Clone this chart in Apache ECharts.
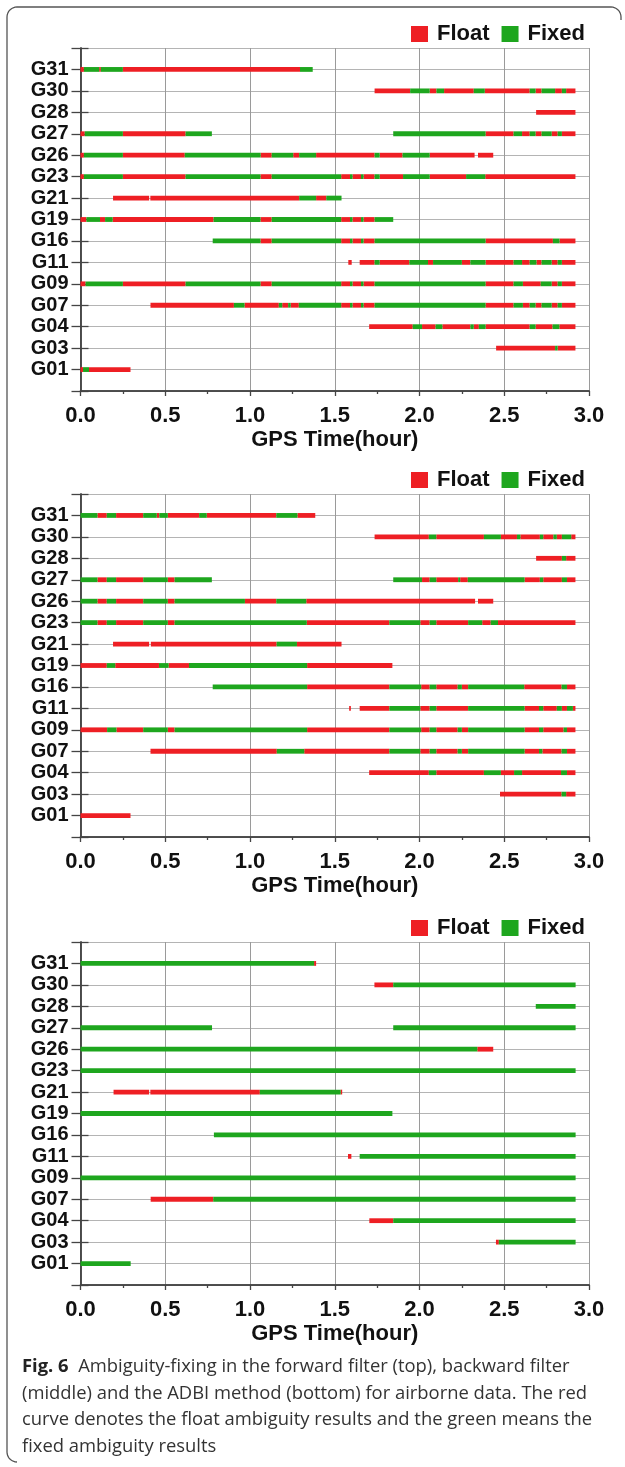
<!DOCTYPE html>
<html>
<head>
<meta charset="utf-8">
<title>Fig. 6 ambiguity fixing</title>
<script src="https://cdn.jsdelivr.net/npm/echarts@6/dist/echarts.min.js"></script>
<style>
  html, body { margin: 0; padding: 0; background: #fff; }
  #chart { width: 625px; height: 1467px; }
</style>
</head>
<body>
<div id="chart"></div>
<script>
// satellites from bottom (row 1) to top (row 15)
var satellites = ['G01', 'G03', 'G04', 'G07', 'G09', 'G11', 'G16', 'G19', 'G21', 'G23', 'G26', 'G27', 'G28', 'G30', 'G31'];
var statusNames = ['Float', 'Fixed'];

// runs: [t0, state, t1, state, t2, ...]  R = float, G = fixed, '-' = no data
var forwardRuns = [
    ['G31', [0, 'R', 0.02, 'G', 0.11, 'R', 0.12, 'G', 0.25, 'R', 1.295, 'G', 1.37]],
    ['G30', [1.735, 'R', 1.945, 'G', 2.06, 'R', 2.10, 'G', 2.145, 'R', 2.32, 'G', 2.385, 'R', 2.65, 'G', 2.685, 'R', 2.72, 'G', 2.80, 'R', 2.84, 'G', 2.865, 'R', 2.92]],
    ['G28', [2.688, 'R', 2.92]],
    ['G27', [0, 'R', 0.025, 'G', 0.25, 'R', 0.62, 'G', 0.775, '-', 1.845, 'G', 2.39, 'R', 2.555, 'G', 2.605, 'R', 2.65, 'G', 2.685, 'R', 2.72, 'G', 2.78, 'R', 2.815, 'G', 2.84, 'R', 2.92]],
    ['G26', [0, 'R', 0.02, 'G', 0.25, 'R', 0.615, 'G', 1.063, 'R', 1.128, 'G', 1.255, 'R', 1.29, 'G', 1.39, 'R', 1.735, 'G', 1.765, 'R', 1.90, 'G', 2.06, 'R', 2.325, '-', 2.345, 'R', 2.435]],
    ['G23', [0, 'R', 0.02, 'G', 0.25, 'R', 0.62, 'G', 1.062, 'R', 1.128, 'G', 1.538, 'R', 1.59, 'G', 1.605, 'R', 1.655, 'G', 1.67, 'R', 1.735, 'G', 1.765, 'R', 1.903, 'G', 2.06, 'R', 2.275, 'G', 2.388, 'R', 2.92]],
    ['G21', [0.192, 'R', 0.405, '-', 0.412, 'R', 1.29, 'G', 1.39, 'R', 1.45, 'G', 1.54]],
    ['G19', [0, 'R', 0.035, 'G', 0.115, 'R', 0.145, 'G', 0.19, 'R', 0.785, 'G', 1.062, 'R', 1.128, 'G', 1.538, 'R', 1.59, 'G', 1.605, 'R', 1.655, 'G', 1.67, 'R', 1.735, 'G', 1.845]],
    ['G16', [0.78, 'G', 1.062, 'R', 1.128, 'G', 1.538, 'R', 1.59, 'G', 1.605, 'R', 1.655, 'G', 1.67, 'R', 1.735, 'G', 2.39, 'R', 2.787, 'G', 2.826, 'R', 2.92]],
    ['G11', [1.58, 'R', 1.60, '-', 1.647, 'R', 1.735, 'G', 1.765, 'R', 1.94, 'G', 2.05, 'R', 2.08, 'G', 2.25, 'R', 2.30, 'G', 2.39, 'R', 2.555, 'G', 2.605, 'R', 2.65, 'G', 2.69, 'R', 2.72, 'G', 2.78, 'R', 2.815, 'G', 2.84, 'R', 2.92]],
    ['G09', [0, 'R', 0.03, 'G', 0.25, 'R', 0.62, 'G', 1.062, 'R', 1.128, 'G', 1.538, 'R', 1.59, 'G', 1.605, 'R', 1.655, 'G', 1.67, 'R', 1.735, 'G', 2.39, 'R', 2.555, 'G', 2.61, 'R', 2.715, 'G', 2.78, 'R', 2.815, 'G', 2.84, 'R', 2.92]],
    ['G07', [0.413, 'R', 0.905, 'G', 0.968, 'R', 1.17, 'G', 1.19, 'R', 1.225, 'G', 1.24, 'R', 1.288, 'G', 1.538, 'R', 1.59, 'G', 1.605, 'R', 1.655, 'G', 1.67, 'R', 1.735, 'G', 2.39, 'R', 2.555, 'G', 2.61, 'R', 2.65, 'G', 2.685, 'R', 2.72, 'G', 2.78, 'R', 2.815, 'G', 2.84, 'R', 2.92]],
    ['G04', [1.703, 'R', 1.96, 'G', 2.015, 'R', 2.095, 'G', 2.135, 'R', 2.30, 'G', 2.32, 'R', 2.35, 'G', 2.39, 'R', 2.65, 'G', 2.685, 'R', 2.785, 'G', 2.825, 'R', 2.92]],
    ['G03', [2.452, 'R', 2.80, 'G', 2.815, 'R', 2.92]],
    ['G01', [0, 'R', 0.015, 'G', 0.05, 'R', 0.295]]
];

var backwardRuns = [
    ['G31', [0, 'G', 0.10, 'R', 0.155, 'G', 0.21, 'R', 0.37, 'G', 0.45, 'R', 0.465, 'G', 0.515, 'R', 0.70, 'G', 0.745, 'R', 1.155, 'G', 1.28, 'R', 1.385]],
    ['G30', [1.735, 'R', 2.055, 'G', 2.099, 'R', 2.38, 'G', 2.48, 'R', 2.575, 'G', 2.595, 'R', 2.71, 'G', 2.73, 'R', 2.79, 'G', 2.81, 'R', 2.84, 'G', 2.895, 'R', 2.92]],
    ['G28', [2.688, 'R', 2.84, 'G', 2.865, 'R', 2.92]],
    ['G27', [0, 'G', 0.10, 'R', 0.155, 'G', 0.21, 'R', 0.37, 'G', 0.515, 'R', 0.555, 'G', 0.775, '-', 1.845, 'G', 2.015, 'R', 2.06, 'G', 2.099, 'R', 2.228, 'G', 2.24, 'R', 2.285, 'G', 2.62, 'R', 2.71, 'G', 2.73, 'R', 2.84, 'G', 2.87, 'R', 2.92]],
    ['G26', [0, 'G', 0.10, 'R', 0.155, 'G', 0.21, 'R', 0.37, 'G', 0.515, 'R', 0.555, 'G', 0.97, 'R', 1.155, 'G', 1.332, 'R', 2.328, '-', 2.345, 'R', 2.435]],
    ['G23', [0, 'G', 0.10, 'R', 0.155, 'G', 0.21, 'R', 0.37, 'G', 0.515, 'R', 0.555, 'G', 1.335, 'R', 1.822, 'G', 2.005, 'R', 2.06, 'G', 2.099, 'R', 2.287, 'G', 2.37, 'R', 2.42, 'G', 2.463, 'R', 2.92]],
    ['G21', [0.192, 'R', 0.405, '-', 0.415, 'R', 1.157, 'G', 1.277, 'R', 1.54]],
    ['G19', [0, 'R', 0.155, 'G', 0.205, 'R', 0.463, 'G', 0.52, 'R', 0.64, 'G', 1.337, 'R', 1.84]],
    ['G16', [0.78, 'G', 1.337, 'R', 1.822, 'G', 2.01, 'R', 2.06, 'G', 2.099, 'R', 2.225, 'G', 2.25, 'R', 2.287, 'G', 2.618, 'R', 2.838, 'G', 2.87, 'R', 2.92]],
    ['G11', [1.585, 'R', 1.595, '-', 1.647, 'R', 1.822, 'G', 2.005, 'R', 2.06, 'G', 2.099, 'R', 2.287, 'G', 2.62, 'R', 2.705, 'G', 2.73, 'R', 2.81, 'G', 2.84, 'R', 2.87, 'G', 2.905, 'R', 2.92]],
    ['G09', [0, 'R', 0.157, 'G', 0.212, 'R', 0.37, 'G', 0.515, 'R', 0.555, 'G', 1.337, 'R', 1.822, 'G', 2.01, 'R', 2.06, 'G', 2.099, 'R', 2.225, 'G', 2.25, 'R', 2.287, 'G', 2.62, 'R', 2.705, 'G', 2.73, 'R', 2.85, 'G', 2.87, 'R', 2.92]],
    ['G07', [0.413, 'R', 1.158, 'G', 1.32, 'R', 1.822, 'G', 2.005, 'R', 2.06, 'G', 2.099, 'R', 2.225, 'G', 2.25, 'R', 2.287, 'G', 2.62, 'R', 2.705, 'G', 2.725, 'R', 2.838, 'G', 2.87, 'R', 2.92]],
    ['G04', [1.703, 'R', 2.055, 'G', 2.099, 'R', 2.38, 'G', 2.48, 'R', 2.558, 'G', 2.605, 'R', 2.835, 'G', 2.87, 'R', 2.92]],
    ['G03', [2.475, 'R', 2.838, 'G', 2.865, 'R', 2.92]],
    ['G01', [0, 'R', 0.295]]
];

var adbiRuns = [
    ['G31', [0, 'G', 1.378, 'R', 1.39]],
    ['G30', [1.734, 'R', 1.845, 'G', 2.921]],
    ['G28', [2.686, 'G', 2.921]],
    ['G27', [0, 'G', 0.776, '-', 1.845, 'G', 2.921]],
    ['G26', [0, 'G', 2.341, 'R', 2.435]],
    ['G23', [0, 'G', 2.921]],
    ['G21', [0.195, 'R', 0.405, '-', 0.412, 'R', 1.058, 'G', 1.535, 'R', 1.542]],
    ['G19', [0, 'G', 1.84]],
    ['G16', [0.787, 'G', 2.921]],
    ['G11', [1.578, 'R', 1.598, '-', 1.647, 'G', 2.921]],
    ['G09', [0, 'G', 2.921]],
    ['G07', [0.414, 'R', 0.783, 'G', 2.921]],
    ['G04', [1.704, 'R', 1.845, 'G', 2.921]],
    ['G03', [2.451, 'R', 2.468, 'G', 2.921]],
    ['G01', [0, 'G', 0.296]]
];

var captionLines = [
    '{b|Fig. 6}  Ambiguity-fixing in the forward filter (top), backward filter',
    '(middle) and the ADBI method (bottom) for airborne data. The red',
    'curve denotes the float ambiguity results and the green means the',
    'fixed ambiguity results'
];

var RED = '#ee1f24';
var GREEN = '#1ea61e';
var FRAME = '#444';
var FONT = '"Liberation Sans", Arial, sans-serif';
var CAPFONT = '"Open Sans", "Noto Sans", sans-serif';

// turn run lists into [start, end, row] items for one state
function segments(runs, state) {
    var out = [];
    runs.forEach(function(r) {
        var row = satellites.indexOf(r[0]) + 1;
        var seq = r[1];
        for (var i = 1; i < seq.length; i += 2) {
            if (seq[i] === state) out.push([seq[i - 1], seq[i + 1], row]);
        }
    });
    return out;
}

function renderRun(params, api) {
    var a = api.coord([api.value(0), api.value(2)]);
    var b = api.coord([api.value(1), api.value(2)]);
    var h = 4.8;
    return {
        type: 'rect',
        shape: { x: a[0], y: a[1] - h / 2, width: Math.max(b[0] - a[0], 1.5), height: h },
        style: { fill: api.visual('color') }
    };
}

// quarter circle points for the frame corners
function corner(cx, cy, r, a0, a1) {
    var pts = [];
    for (var k = 0; k <= 8; k++) {
        var a = (a0 + (a1 - a0) * k / 8) * Math.PI / 180;
        pts.push([cx + r * Math.cos(a), cy + r * Math.sin(a)]);
    }
    return pts;
}

var panels = [forwardRuns, backwardRuns, adbiRuns];
var gridTops = [48, 494, 942];
var legendTops = [18, 464, 912];

var option = {
    backgroundColor: '#fff',
    animation: false,
    grid: [],
    xAxis: [],
    yAxis: [],
    legend: [],
    series: [],
    graphic: []
};

panels.forEach(function(runs, p) {
    option.grid.push({ left: 80.5, right: 36, top: gridTops[p], height: 343 });

    option.xAxis.push({
        type: 'value', gridIndex: p, position: 'bottom',
        min: 0, max: 3, interval: 0.5,
        name: 'GPS Time(hour)', nameLocation: 'middle', nameGap: 38,
        nameTextStyle: { fontFamily: FONT, fontWeight: 'bold', fontSize: 22, color: '#111' },
        axisLine: { show: true, lineStyle: { color: FRAME, width: 1.5 } },
        axisTick: { show: true, length: 5, lineStyle: { color: FRAME, width: 1.3 } },
        minorTick: { show: true, splitNumber: 2, length: 3, lineStyle: { color: FRAME, width: 1.3 } },
        axisLabel: {
            margin: 14, fontFamily: FONT, fontWeight: 'bold', fontSize: 22, color: '#111',
            formatter: function(v) { return v.toFixed(1); }
        },
        splitLine: { show: true, lineStyle: { color: '#9a9a9a', width: 1 } }
    });
    option.xAxis.push({
        type: 'value', gridIndex: p, position: 'top', min: 0, max: 3, interval: 0.5,
        axisLine: { show: true, lineStyle: { color: FRAME, width: 1.5 } },
        axisTick: { show: false }, axisLabel: { show: false }, splitLine: { show: false }
    });

    option.yAxis.push({
        type: 'value', gridIndex: p, position: 'left', min: 0, max: 16, interval: 1,
        axisLine: { show: true, lineStyle: { color: FRAME, width: 1.5 } },
        axisTick: { show: true, length: 9, lineStyle: { color: FRAME, width: 1.3 } },
        axisLabel: {
            margin: 12, fontFamily: FONT, fontWeight: 'bold', fontSize: 20, color: '#111',
            formatter: function(v) { return satellites[v - 1] || ''; }
        },
        splitLine: { show: true, lineStyle: { color: '#b4b4b4', width: 1 } }
    });
    option.yAxis.push({
        type: 'value', gridIndex: p, position: 'right', min: 0, max: 16, interval: 1,
        axisLine: { show: true, lineStyle: { color: FRAME, width: 1.5 } },
        axisTick: { show: true, length: 8, lineStyle: { color: FRAME, width: 1.3 } },
        axisLabel: { show: false }, splitLine: { show: false }
    });

    option.legend.push({
        data: statusNames, right: 35, top: legendTops[p], icon: 'rect',
        itemWidth: 17, itemHeight: 16, itemGap: 12, selectedMode: false,
        textStyle: { fontFamily: FONT, fontWeight: 'bold', fontSize: 22, color: '#111', padding: [0, 0, 0, 4] }
    });

    [['Float', 'R', RED], ['Fixed', 'G', GREEN]].forEach(function(s) {
        option.series.push({
            type: 'custom', name: s[0],
            xAxisIndex: 2 * p, yAxisIndex: 2 * p,
            renderItem: renderRun,
            itemStyle: { color: s[2] },
            encode: { x: [0, 1], y: 2 },
            data: segments(runs, s[1]),
            z: 5
        });
    });
});

// outer frame: top edge, left edge and the corner stubs
var framePts = [[621, 20]]
    .concat(corner(611, 17, 10, 0, -90))
    .concat(corner(17, 17, 10, -90, -180))
    .concat(corner(17, 1452, 10, 180, 90));
option.graphic.push({
    type: 'polyline',
    shape: { points: framePts },
    style: { fill: null, stroke: '#555', lineWidth: 1.3 }
});

var captionY = [1367, 1393.5, 1420, 1446.5];
captionLines.forEach(function(line, i) {
    option.graphic.push({
        type: 'text', x: 22, y: captionY[i],
        style: {
            text: line, fill: '#333', fontFamily: CAPFONT, fontSize: 18.4,
            verticalAlign: 'middle',
            rich: { b: { fontWeight: 'bold', fontFamily: CAPFONT, fontSize: 18.4, fill: '#222' } }
        }
    });
});

var myChart = echarts.init(document.getElementById('chart'));
myChart.setOption(option);
</script>
</body>
</html>
